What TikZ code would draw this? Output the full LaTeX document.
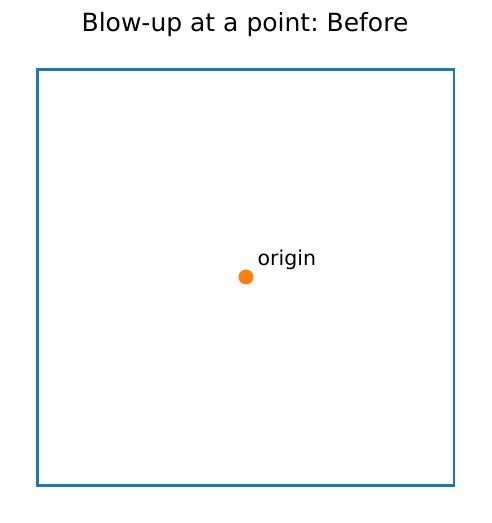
\documentclass[tikz,border=0pt]{standalone}
\usepackage{fontspec}
\setmainfont{DejaVu Sans}
\frenchspacing
\definecolor{mplblue}{HTML}{1F77B4}
\definecolor{mplorange}{HTML}{FF7F0E}
\begin{document}
\begin{tikzpicture}[x=1pt,y=1pt,
  frame/.style={draw=mplblue,line width=2.7pt},
  dot/.style={circle,fill=mplorange,inner sep=0pt,minimum size=15pt},
  lbl/.style={font=\fontsize{20.5}{24}\selectfont,inner sep=0pt,anchor=base west}]
\useasboundingbox (0,0) rectangle (491,523);
\node[font=\fontsize{25}{30}\selectfont,inner sep=0pt,anchor=base] (title) at (245,491) {Blow-up at a point: Before};
\draw[frame] (37.7,37.7) rectangle (454,453.5);
\node[dot] (origin) at (246,246) {};
\node[lbl] (olabel) at (257.5,257) {origin};
\end{tikzpicture}
\end{document}
